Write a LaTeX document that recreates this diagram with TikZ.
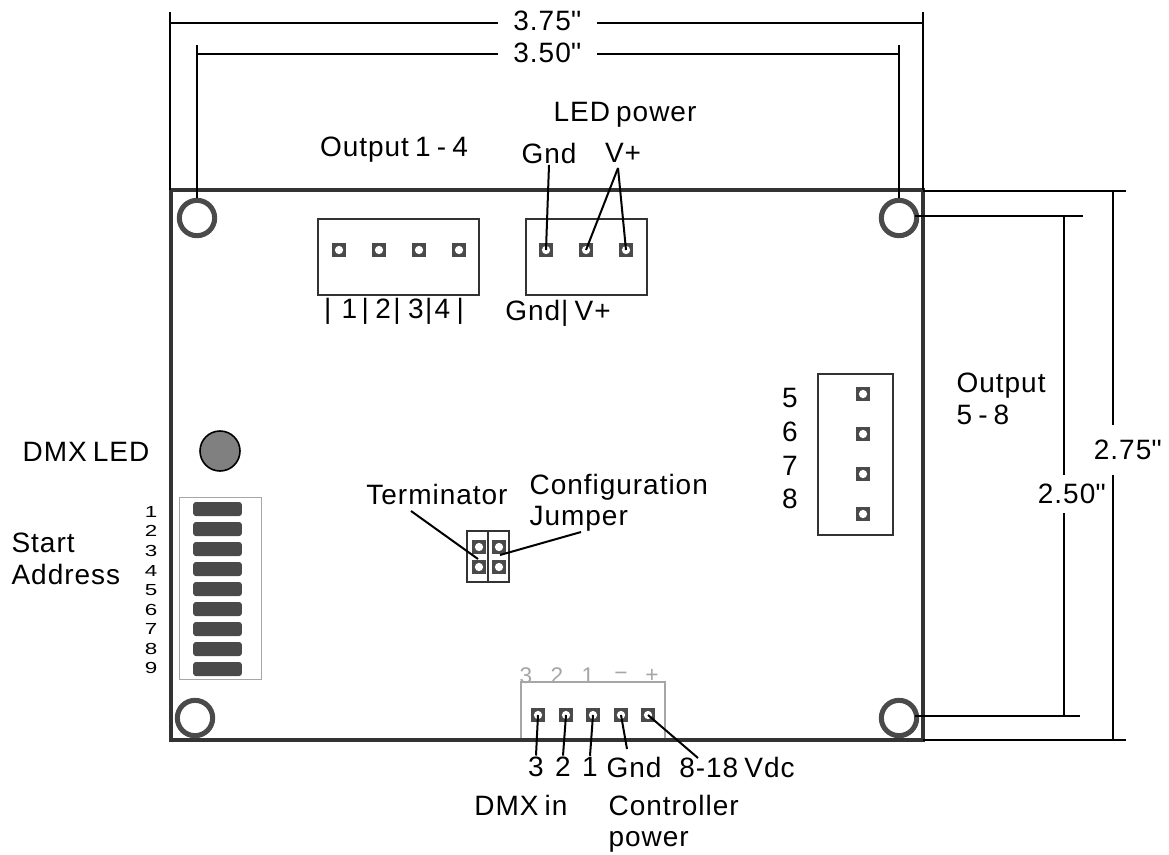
\documentclass[tikz,border=0pt]{standalone}
\usepackage{fontspec}
\setmainfont[LetterSpace=3.5,WordSpace=0.7]{Liberation Sans}
\usepackage{xcolor}
\usetikzlibrary{
  arrows.meta,
  positioning
}
\definecolor{boardcolor}{HTML}{333333}
\definecolor{pincolor}{HTML}{4A4A4A}
\definecolor{silkcolor}{HTML}{A6A6A6}

\begin{document}
\begin{tikzpicture}[
  x=0.75pt, y=-0.75pt,
  board/.style={draw=boardcolor, line width=3.6pt, minimum width=564pt, minimum height=412.5pt, inner sep=0pt},
  hole/.style={circle, draw=pincolor, line width=3.8pt, fill=white, minimum size=26.5pt, inner sep=0pt},
  socket/.style={draw=boardcolor, line width=1.1pt, inner sep=0pt},
  pinbox/.style={fill=pincolor, minimum size=11pt, inner sep=0pt,
                 path picture={\fill[white] (path picture bounding box.center) circle (3.1pt);}},
  smallpin/.style={pinbox, minimum size=10pt},
  dipbar/.style={fill=pincolor, rounded corners=2pt, minimum width=36.5pt, minimum height=10.5pt, inner sep=0pt},
  dim/.style={draw=black, line width=1.3pt},
  lead/.style={draw=black, line width=1.5pt},
  lbl/.style={font=\fontsize{21}{23.5}\selectfont, inner sep=1pt, align=left},
  diplbl/.style={font=\fontsize{12}{12}\selectfont, inner sep=0pt, xscale=1.4, transform shape},
  silk/.style={font=\fontsize{17}{18}\selectfont, text=silkcolor, inner sep=0pt},
]
  \useasboundingbox (0,0) rectangle (1169,854);

  \node[board] (pcb) at (547,465) {};

  \node[hole] (holetl) at (197,218) {};
  \node[hole] (holetr) at (899,218) {};
  \node[hole] (holebl) at (195,718) {};
  \node[hole] (holebr) at (899,718) {};

  % width dimensions
  \node[lbl, minimum width=74pt] (dimwide) at (547.5,21) {3.75\textquotesingle\textquotesingle};
  \node[lbl, minimum width=74pt] (dimnarrow) at (547.5,53) {3.50\textquotesingle\textquotesingle};
  \coordinate (widel) at (170,12);
  \coordinate (wider) at (923,12);
  \coordinate (narrowl) at (197,45);
  \coordinate (narrowr) at (899,45);
  \coordinate (widelh) at (170,23);
  \coordinate (widerh) at (923,23);
  \coordinate (narrowlh) at (197,54);
  \coordinate (narrowrh) at (899,54);
  \coordinate (widelb) at (170,190);
  \coordinate (widerb) at (923,190);
  \draw[dim] (widel) -- (widelb);
  \draw[dim] (wider) -- (widerb);
  \draw[dim] (narrowl) -- (holetl.north);
  \draw[dim] (narrowr) -- (holetr.north);
  \draw[dim] (widelh) -- (widelh -| dimwide.west);
  \draw[dim] (widerh) -- (widerh -| dimwide.east);
  \draw[dim] (narrowlh) -- (narrowlh -| dimnarrow.west);
  \draw[dim] (narrowrh) -- (narrowrh -| dimnarrow.east);

  % height dimensions
  \node[lbl, minimum height=37.5pt] (dimtall) at (1128,450) {2.75\textquotesingle\textquotesingle};
  \node[lbl, minimum height=28pt] (dimshort) at (1072,494) {2.50\textquotesingle\textquotesingle};
  \coordinate (talltop) at (923,191);
  \coordinate (tallbot) at (923,740);
  \coordinate (talltopr) at (1126,191);
  \coordinate (tallbotr) at (1126,740);
  \coordinate (talla) at (1113,191);
  \coordinate (tallb) at (1113,740);
  \coordinate (shorttop) at (915,216);
  \coordinate (shortbot) at (915,716);
  \coordinate (shorttopr) at (1083,216);
  \coordinate (shortbotr) at (1080,716);
  \coordinate (shorta) at (1064,216);
  \coordinate (shortb) at (1064,716);
  \draw[dim] (talltop) -- (talltopr);
  \draw[dim] (tallbot) -- (tallbotr);
  \draw[dim] (shorttop) -- (shorttopr);
  \draw[dim] (shortbot) -- (shortbotr);
  \draw[dim] (talla) -- (talla |- dimtall.north);
  \draw[dim] (tallb) -- (tallb |- dimtall.south);
  \draw[dim] (shorta) -- (shorta |- dimshort.north);
  \draw[dim] (shortb) -- (shortb |- dimshort.south);

  % output 1-4
  \node[socket, minimum width=120.75pt, minimum height=57pt] (outa) at (398.5,257) {};
  \node[pinbox] (pa1) at (339,250) {};
  \node[pinbox] (pa2) at (379,250) {};
  \node[pinbox] (pa3) at (419,250) {};
  \node[pinbox] (pa4) at (459,250) {};
  \node[lbl] (lblouta) at (394,150) {Output 1 - 4};
  \node[lbl] (lblnums) at (394,311) {|\hspace{7.8pt}1\hspace{3.3pt}|\hspace{4.8pt}2\hspace{1.8pt}|\hspace{5.6pt}3\hspace{1pt}|\hspace{1.8pt}4\hspace{4.8pt}|};

  % LED power
  \node[socket, minimum width=90.75pt, minimum height=57pt] (ledpwr) at (586.5,257) {};
  \node[pinbox] (pl1) at (546,250) {};
  \node[pinbox] (pl2) at (586,250) {};
  \node[pinbox] (pl3) at (626,250) {};
  \node[lbl] (lblled) at (625,115) {LED power};
  \node[lbl] (lblgnd) at (549,153) {Gnd};
  \node[lbl] (lblvp) at (623,153) {V+};
  \node[lbl] (lblgv) at (558,313) {Gnd| V+};
  \coordinate (vtip) at (618,168);
  \draw[lead] (lblgnd.south) -- (pl1.center);
  \draw[lead] (vtip) -- (pl2.center);
  \draw[lead] (vtip) -- (pl3.center);

  % output 5-8
  \node[socket, minimum width=56.25pt, minimum height=120.75pt] (outb) at (855.5,454.5) {};
  \node[pinbox] (pb1) at (863,394) {};
  \node[pinbox] (pb2) at (863,434) {};
  \node[pinbox] (pb3) at (863,474) {};
  \node[pinbox] (pb4) at (863,514) {};
  \node[lbl] (lblb1) at (790,398) {5};
  \node[lbl] (lblb2) at (790,432) {6};
  \node[lbl] (lblb3) at (790,466) {7};
  \node[lbl] (lblb4) at (790,499) {8};
  \node[lbl, anchor=west] (lbloutb) at (955,399) {Output\\5 - 8};

  % DMX led and dip switch
  \node[lbl] (lbldmx) at (86,452) {DMX LED};
  \node[circle, draw=black, line width=1.2pt, fill=gray, minimum size=30pt, inner sep=0pt] (led) at (220,451) {};
  \node[draw=silkcolor, line width=0.7pt, minimum width=61pt, minimum height=136pt, inner sep=0pt] (dipbox) at (220.5,588.5) {};
  \node[dipbar] (sw1) at (217.5,509) {};
  \node[dipbar] (sw2) at (217.5,529) {};
  \node[dipbar] (sw3) at (217.5,549) {};
  \node[dipbar] (sw4) at (217.5,569) {};
  \node[dipbar] (sw5) at (217.5,589) {};
  \node[dipbar] (sw6) at (217.5,609) {};
  \node[dipbar] (sw7) at (217.5,629) {};
  \node[dipbar] (sw8) at (217.5,649) {};
  \node[dipbar] (sw9) at (217.5,669) {};
  \node[diplbl] (num1) at (151,512) {1};
  \node[diplbl] (num2) at (151,531) {2};
  \node[diplbl] (num3) at (151,551) {3};
  \node[diplbl] (num4) at (151,571) {4};
  \node[diplbl] (num5) at (151,590) {5};
  \node[diplbl] (num6) at (151,610) {6};
  \node[diplbl] (num7) at (151,629) {7};
  \node[diplbl] (num8) at (151,649) {8};
  \node[diplbl] (num9) at (151,668) {9};
  \node[lbl, anchor=west] (lblstart) at (10,559) {Start\\Address};

  % jumpers
  \node[socket, minimum width=15.75pt, minimum height=38.25pt] (jmpa) at (477.5,556.5) {};
  \node[socket, minimum width=15.75pt, minimum height=38.25pt] (jmpb) at (498.5,556.5) {};
  \node[smallpin] (ja1) at (479,547) {};
  \node[smallpin] (ja2) at (479,567) {};
  \node[smallpin] (jb1) at (499,547) {};
  \node[smallpin] (jb2) at (499,567) {};
  \node[lbl] (lblterm) at (437,494) {Terminator};
  \node[lbl, anchor=west] (lblcfg) at (528,503) {Configuration\\Jumper};
  \coordinate (termtip) at (411,511);
  \coordinate (cfgtip) at (581,532);
  \coordinate (termend) at (478,559);
  \coordinate (cfgend) at (500,555);
  \draw[lead] (termtip) -- (termend);
  \draw[lead] (cfgtip) -- (cfgend);

  % DMX in and controller power
  \coordinate (cnla) at (521,738);
  \coordinate (cnlb) at (521,682);
  \coordinate (cnlc) at (665,682);
  \coordinate (cnld) at (665,738);
  \draw[draw=silkcolor, line width=0.8pt] (cnla) -- (cnlb) -- (cnlc) -- (cnld);
  \node[silk] (sk1) at (526,676) {3};
  \node[silk] (sk2) at (557,676) {2};
  \node[silk] (sk3) at (588,676) {1};
  \node[silk] (sk4) at (621,676) {−};
  \node[silk] (sk5) at (652,676) {+};
  \node[pinbox] (pd1) at (538,715) {};
  \node[pinbox] (pd2) at (566,715) {};
  \node[pinbox] (pd3) at (593,715) {};
  \node[pinbox] (pd4) at (621,715) {};
  \node[pinbox] (pd5) at (648,715) {};
  \node[lbl] (lbld1) at (536,767) {3};
  \node[lbl] (lbld2) at (563,767) {2};
  \node[lbl] (lbld3) at (590,767) {1};
  \node[lbl] (lbld4) at (634,767) {Gnd};
  \node[lbl] (lbld5) at (737,767) {8-18 Vdc};
  \coordinate (gndtip) at (627,749);
  \coordinate (supplytip) at (698,758);
  \draw[lead] (pd1.center) -- (lbld1.north);
  \draw[lead] (pd2.center) -- (lbld2.north);
  \draw[lead] (pd3.center) -- (lbld3.north);
  \draw[lead] (pd4.center) -- (gndtip);
  \draw[lead] (pd5.center) -- (supplytip);
  \node[lbl] (lbldmxin) at (521,805) {DMX in};
  \node[lbl, anchor=west] (lblctrl) at (607,824) {Controller\\power};
\end{tikzpicture}
\end{document}
